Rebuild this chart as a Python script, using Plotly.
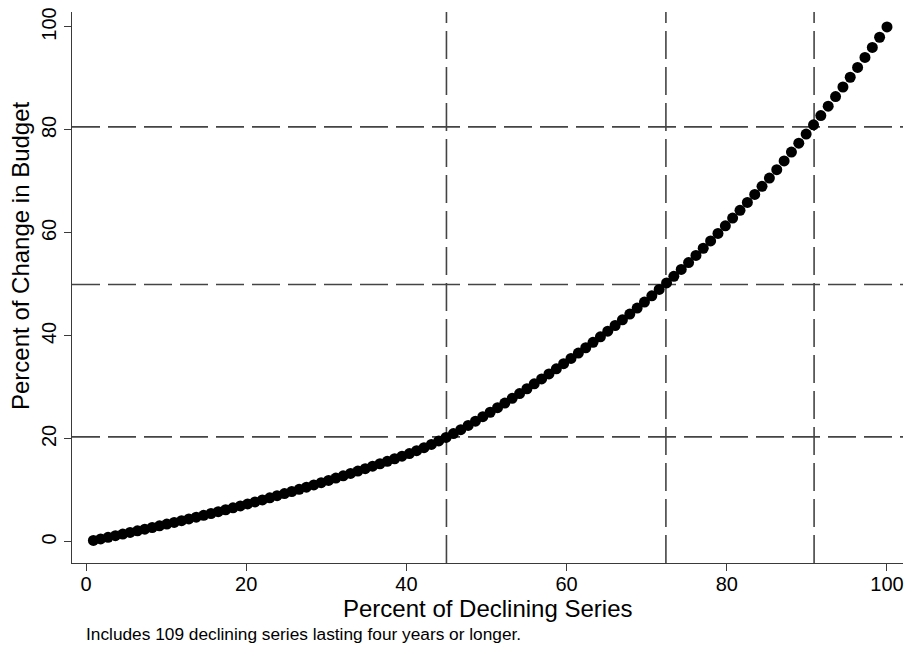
import plotly.graph_objects as go

# Percent of declining series (rank / 109 * 100)
pct_series = [
    0.92, 1.83, 2.75, 3.67, 4.59, 5.50, 6.42, 7.34, 8.26, 9.17,
    10.09, 11.01, 11.93, 12.84, 13.76, 14.68, 15.60, 16.51, 17.43, 18.35,
    19.27, 20.18, 21.10, 22.02, 22.94, 23.85, 24.77, 25.69, 26.61, 27.52,
    28.44, 29.36, 30.28, 31.19, 32.11, 33.03, 33.94, 34.86, 35.78, 36.70,
    37.61, 38.53, 39.45, 40.37, 41.28, 42.20, 43.12, 44.04, 44.95, 45.87,
    46.79, 47.71, 48.62, 49.54, 50.46, 51.38, 52.29, 53.21, 54.13, 55.05,
    55.96, 56.88, 57.80, 58.72, 59.63, 60.55, 61.47, 62.39, 63.30, 64.22,
    65.14, 66.06, 66.97, 67.89, 68.81, 69.72, 70.64, 71.56, 72.48, 73.39,
    74.31, 75.23, 76.15, 77.06, 77.98, 78.90, 79.82, 80.73, 81.65, 82.57,
    83.49, 84.40, 85.32, 86.24, 87.16, 88.07, 88.99, 89.91, 90.83, 91.74,
    92.66, 93.58, 94.50, 95.41, 96.33, 97.25, 98.17, 99.08, 100.00,
]

# Cumulative percent of change in budget
pct_budget = [
    0.30, 0.60, 0.91, 1.22, 1.53, 1.85, 2.17, 2.49, 2.81, 3.14,
    3.47, 3.80, 4.14, 4.48, 4.82, 5.17, 5.53, 5.89, 6.26, 6.63,
    7.01, 7.39, 7.78, 8.17, 8.57, 8.98, 9.39, 9.80, 10.22, 10.65,
    11.08, 11.51, 11.95, 12.40, 12.85, 13.31, 13.77, 14.24, 14.71, 15.19,
    15.67, 16.16, 16.66, 17.16, 17.72, 18.31, 18.94, 19.61, 20.31, 21.04,
    21.81, 22.62, 23.46, 24.32, 25.19, 26.08, 26.98, 27.89, 28.81, 29.75,
    30.70, 31.66, 32.63, 33.62, 34.62, 35.64, 36.67, 37.71, 38.77, 39.84,
    40.93, 42.03, 43.13, 44.26, 45.41, 46.59, 47.80, 49.04, 50.30, 51.59,
    52.91, 54.26, 55.63, 57.03, 58.46, 59.91, 61.38, 62.88, 64.39, 65.93,
    67.48, 69.06, 70.66, 72.28, 73.98, 75.70, 77.44, 79.21, 80.99, 82.80,
    84.62, 86.47, 88.34, 90.23, 92.14, 94.07, 96.02, 98.00, 100.00,
]

ref_x = [45.0, 72.4, 90.9]
ref_y = [20.4, 50.0, 80.6]

tick_vals = [0, 20, 40, 60, 80, 100]
tick_text = ["0", "20", "40", "60", "80", "100"]

x_title = "Percent of Declining Series"
y_title = "Percent of Change in Budget"
caption = "Includes 109 declining series lasting four years or longer."

FONT = "Liberation Sans, Arial, sans-serif"
AXIS_COL = "#3a3a3a"
DASH_COL = "#444444"

fig = go.Figure()
fig.add_trace(go.Scatter(
    x=pct_series, y=pct_budget, mode="markers",
    marker=dict(color="black", size=11, line=dict(width=0)),
    showlegend=False, hoverinfo="x+y", cliponaxis=False,
))

for v in ref_x:
    fig.add_shape(type="line", xref="x", yref="paper", x0=v, x1=v, y0=0, y1=1,
                  line=dict(color=DASH_COL, width=1.6, dash="28px,8px"), layer="below")
for h in ref_y:
    fig.add_shape(type="line", xref="paper", yref="y", x0=0, x1=1, y0=h, y1=h,
                  line=dict(color=DASH_COL, width=1.6, dash="28px,8px"), layer="below")

fig.update_layout(
    width=912, height=650,
    margin=dict(l=72, r=9, t=12, b=87, autoexpand=False),
    paper_bgcolor="white", plot_bgcolor="white",
    font=dict(family=FONT, color="black"),
    showlegend=False,
)
fig.update_xaxes(
    range=[-1.75, 102.0], showgrid=False, zeroline=False, automargin=False,
    showline=True, linecolor=AXIS_COL, linewidth=1.3,
    ticks="outside", ticklen=7, tickwidth=1.3, tickcolor=AXIS_COL,
    tickvals=tick_vals, ticktext=tick_text, tickfont=dict(size=20, family=FONT),
    ticklabelstandoff=-4,
)
fig.update_yaxes(
    range=[-4.08, 102.9], showgrid=False, zeroline=False, automargin=False,
    showline=True, linecolor=AXIS_COL, linewidth=1.3,
    ticks="outside", ticklen=7, tickwidth=1.3, tickcolor=AXIS_COL,
    tickvals=tick_vals, ticktext=tick_text, tickfont=dict(size=20, family=FONT),
    tickangle=-90,
)

fig.add_annotation(text=x_title, xref="paper", yref="paper",
                   x=0.5, y=(563 - 608) / 551, xanchor="center", yanchor="middle",
                   showarrow=False, font=dict(size=24, family=FONT, color="black"))
fig.add_annotation(text=y_title, xref="paper", yref="paper",
                   x=(20 - 72) / 831, y=(563 - 256) / 551, xanchor="center", yanchor="middle",
                   textangle=-90, showarrow=False,
                   font=dict(size=24, family=FONT, color="black"))
fig.add_annotation(text=caption, xref="paper", yref="paper",
                   x=(84 - 72) / 831, y=(563 - 634) / 551, xanchor="left", yanchor="middle",
                   showarrow=False, font=dict(size=17.3, family=FONT, color="black"))

fig.write_html(
    "out.html",
    config={"displayModeBar": False},
    post_script="document.body.style.margin='0';document.body.style.overflow='hidden';",
)
